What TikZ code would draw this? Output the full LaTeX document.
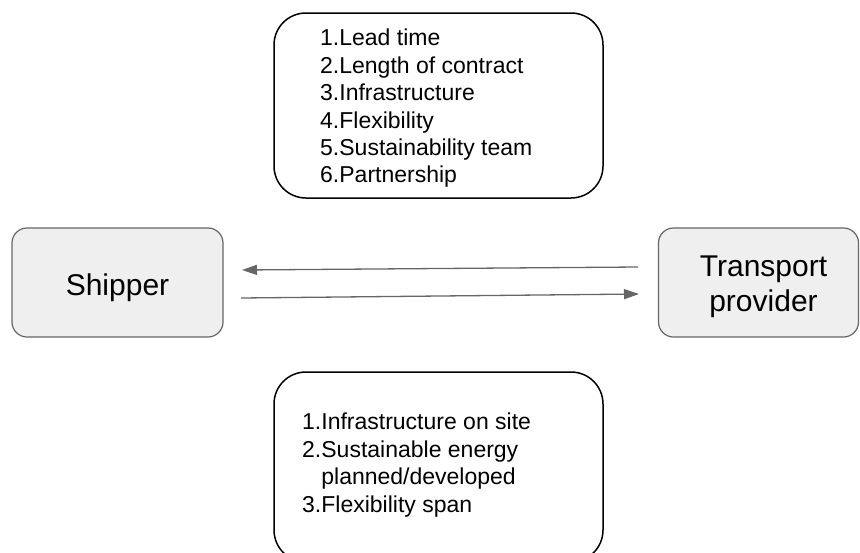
\documentclass[tikz,border=0pt]{standalone}
\usepackage{fontspec}
\setmainfont{Liberation Sans}
\usetikzlibrary{arrows.meta}
\definecolor{edgegray}{HTML}{666666}
\definecolor{boxfill}{HTML}{EFEFEF}
\tikzset{
  party/.style={draw=edgegray, fill=boxfill, line width=1.2pt, rounded corners=15pt, inner sep=0pt},
  partytext/.style={anchor=base, align=center, inner sep=0pt,
    font=\fontsize{30}{35.5}\selectfont},
  listbox/.style={draw=black, line width=1.5pt, rounded corners=32pt, inner sep=0pt},
  listtext/.style={anchor=north west, align=left, inner sep=0pt,
    font=\fontsize{23}{27.4}\selectfont},
  flow/.style={draw=edgegray, line width=1.3pt, -{Triangle[length=15pt,width=10pt]}}
}
\begin{document}
\begin{tikzpicture}[x=1pt,y=-1pt]
\useasboundingbox (0,0) rectangle (860,552);
% the two parties (text placed by the baseline of its last line)
\node[party, minimum width=211pt, minimum height=109pt] (ship) at (117.5,282.5) {};
\node[partytext] (shiptext) at (117.5,295) {Shipper};
\node[party, minimum width=200pt, minimum height=109pt] (trans) at (758.5,282.5) {};
\node[partytext] (transtext) at (763.5,311.5) {Transport\\provider};
% factor boxes; the lower one runs past the bottom of the page
\node[listbox, minimum width=329pt, minimum height=185pt] (topbox) at (438.5,105.5) {};
\node[listbox, minimum width=329pt, minimum height=190pt] (botbox) at (438.5,467) {};
\node[listtext] (toplist) at (320,29) {1.Lead time\\2.Length of contract\\3.Infrastructure\\4.Flexibility\\5.Sustainability team\\6.Partnership};
\node[listtext] (botlist) at (302,413) {1.Infrastructure on site\\2.Sustainable energy\\\phantom{2.}planned/developed\\3.Flexibility span};
% flows between the parties
\coordinate (tl) at (638,267);
\coordinate (tr) at (242,270);
\coordinate (bl) at (241,298);
\coordinate (br) at (639,294);
\draw[flow] (tl) -- (tr);
\draw[flow] (bl) -- (br);
\end{tikzpicture}
\end{document}
